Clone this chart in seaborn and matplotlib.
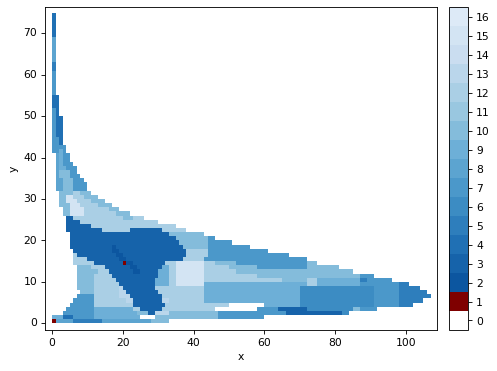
import numpy as np
import seaborn as sns
import matplotlib.pyplot as plt
from matplotlib.colors import ListedColormap

# one entry per band of grid rows, y from 0 upwards
# row_first / row_last: rows covered, row_edges: x edges, row_values: state between the edges
row_first = [0, 1, 2, 3, 4, 5, 6, 7, 8, 9, 10, 11, 12, 13, 14, 15, 16, 17, 18, 19, 20, 21, 22, 23, 24, 25,
             26, 27, 28, 29, 30, 31, 32, 33, 34, 35, 36, 37, 38, 39, 40, 41, 42, 43, 44, 45, 46, 50, 52,
             55, 61, 63, 69]
row_last = [0, 1, 2, 3, 4, 5, 6, 7, 8, 9, 10, 11, 12, 13, 14, 15, 16, 17, 18, 19, 20, 21, 22, 23, 24, 25,
            26, 27, 28, 29, 30, 31, 32, 33, 34, 35, 36, 37, 38, 39, 40, 41, 42, 43, 44, 45, 49, 51, 54,
            60, 62, 68, 74]
row_edges = [
    [0, 1, 6, 14, 28, 33],
    [0, 3, 6, 12, 25, 29, 47, 60],
    [3, 6, 12, 24, 27, 29, 33, 47, 66, 82, 84],
    [4, 12, 23, 25, 31, 33, 46, 58, 64, 72, 85, 87, 92],
    [5, 12, 23, 32, 50, 60, 70, 91, 98, 102],
    [6, 12, 21, 23, 31, 33, 43, 70, 91, 98, 105],
    [7, 12, 19, 22, 31, 33, 43, 70, 91, 98, 107],
    [8, 12, 19, 21, 30, 43, 70, 91, 98, 106],
    [7, 12, 19, 20, 29, 43, 70, 91, 98, 104],
    [7, 12, 19, 29, 33, 35, 43, 72, 75, 87, 98, 101],
    [7, 12, 18, 29, 33, 35, 43, 65, 72, 75, 87, 89, 96],
    [7, 12, 17, 30, 33, 35, 43, 58, 72, 87, 91],
    [7, 13, 16, 23, 25, 30, 33, 35, 43, 52, 85],
    [7, 11, 15, 22, 24, 31, 33, 35, 43, 50, 58, 72, 81],
    [6, 12, 20, 21, 23, 32, 35, 43, 46, 52, 72, 75],
    [6, 10, 19, 21, 37, 43, 72],
    [6, 7, 18, 20, 38, 44, 67],
    [6, 17, 19, 38, 44, 61],
    [5, 17, 18, 37, 44, 56],
    [5, 36, 44, 51],
    [5, 35, 44, 46],
    [5, 33, 43],
    [4, 14, 22, 31, 38],
    [4, 11, 35],
    [4, 8, 30],
    [4, 6, 20, 23, 26],
    [3, 5, 9, 18, 22],
    [3, 5, 9, 16, 19],
    [2, 5, 8, 13, 17],
    [2, 4, 7, 11, 15],
    [2, 4, 6, 9, 13],
    [2, 6, 8, 11],
    [1, 3, 6, 10],
    [1, 3, 6, 10],
    [1, 3, 6, 9],
    [1, 2, 5, 8],
    [1, 2, 5, 7],
    [1, 2, 4, 7],
    [1, 2, 3, 6],
    [1, 2, 3, 5],
    [1, 2, 3, 5],
    [0, 2, 3, 4],
    [0, 2, 4],
    [0, 2, 3],
    [0, 2, 3],
    [0, 1, 3],
    [0, 1, 3],
    [0, 1, 2],
    [0, 2],
    [0, 1],
    [0, 1],
    [0, 1],
    [0, 1],
]
row_values = [
    [1, 8, 5, 8, 10],
    [9, 4, 7, 9, 0, 10, 7],
    [7, 7, 9, 10, 3, 13, 10, 7, 3, 6],
    [7, 9, 12, 3, 12, 12, 0, 7, 3, 6, 10, 7],
    [7, 12, 3, 12, 0, 9, 6, 7, 5],
    [7, 12, 13, 3, 13, 12, 9, 6, 7, 5],
    [7, 12, 13, 3, 12, 12, 9, 6, 7, 5],
    [10, 12, 13, 3, 12, 9, 6, 7, 5],
    [10, 12, 13, 3, 12, 9, 6, 7, 5],
    [10, 12, 3, 9, 12, 15, 9, 12, 9, 7, 5],
    [10, 12, 3, 9, 12, 15, 12, 10, 12, 9, 5, 7],
    [10, 12, 3, 9, 12, 15, 12, 10, 10, 7],
    [10, 12, 3, 2, 3, 9, 12, 15, 12, 10],
    [10, 12, 3, 2, 3, 9, 12, 15, 12, 10, 7, 10],
    [12, 3, 1, 2, 3, 12, 15, 12, 10, 7, 10],
    [12, 3, 2, 3, 12, 7],
    [12, 3, 2, 3, 12, 7],
    [3, 2, 3, 12, 7],
    [3, 2, 3, 10, 7],
    [3, 10, 7],
    [3, 10, 7],
    [3, 10],
    [3, 12, 3, 12],
    [3, 12],
    [3, 12],
    [3, 12, 10, 12],
    [10, 15, 12, 10],
    [10, 15, 12, 10],
    [10, 15, 12, 10],
    [10, 15, 12, 10],
    [10, 15, 12, 10],
    [10, 12, 10],
    [8, 10, 7],
    [8, 10, 7],
    [8, 10, 7],
    [8, 10, 7],
    [8, 10, 7],
    [8, 9, 7],
    [8, 9, 7],
    [8, 9, 7],
    [8, 9, 7],
    [7, 9, 7],
    [7, 7],
    [7, 4],
    [7, 4],
    [7, 4],
    [7, 4],
    [7, 4],
    [4],
    [7],
    [5],
    [8],
    [4],
]
state_ticks = list(range(17))
x_ticks = [0, 20, 40, 60, 80, 100]
y_ticks = [0, 10, 20, 30, 40, 50, 60, 70]

# fill the grid from the bands
grid = np.zeros((76, 109))
for first, last, edges, values in zip(row_first, row_last, row_edges, row_values):
    for i, v in enumerate(values):
        grid[first:last + 1, edges[i]:edges[i + 1]] = v

# white, dark red, then a reversed Blues ramp for the remaining states
colors = ["white", "#7f0000"] + [tuple(c) for c in plt.cm.Blues(np.linspace(0.855, 0.13, 15))]
cmap = ListedColormap(colors)

fig = plt.figure(figsize=(6.4, 4.77), dpi=77.8)
ax = fig.add_axes([44.6 / 498, 1 - 330 / 371, (437 - 44.6) / 498, (330 - 7.3) / 371])
cax = fig.add_axes([449 / 498, 1 - 330 / 371, (468.5 - 449) / 498, (330 - 7.3) / 371])

sns.heatmap(grid, ax=ax, cbar_ax=cax, cmap=cmap, vmin=-0.5, vmax=16.5,
            cbar_kws={"ticks": state_ticks})

ax.set_xlim(-2.1, 108.8)
ax.set_ylim(-1.6, 76.3)
ax.set_xticks(x_ticks, labels=x_ticks, rotation=0)
ax.set_yticks(y_ticks, labels=y_ticks, rotation=0)
ax.set_xlabel("x")
ax.set_ylabel("y")
for spine in ax.spines.values():
    spine.set_visible(True)
    spine.set_linewidth(0.8)
ax.tick_params(length=3.5, width=0.8)

cbar = ax.collections[0].colorbar
cbar.outline.set_visible(True)
cbar.outline.set_linewidth(0.8)
cbar.ax.tick_params(length=3.5, width=0.8)
cbar.set_ticklabels(state_ticks)

fig.savefig("out.png", dpi=77.8)
